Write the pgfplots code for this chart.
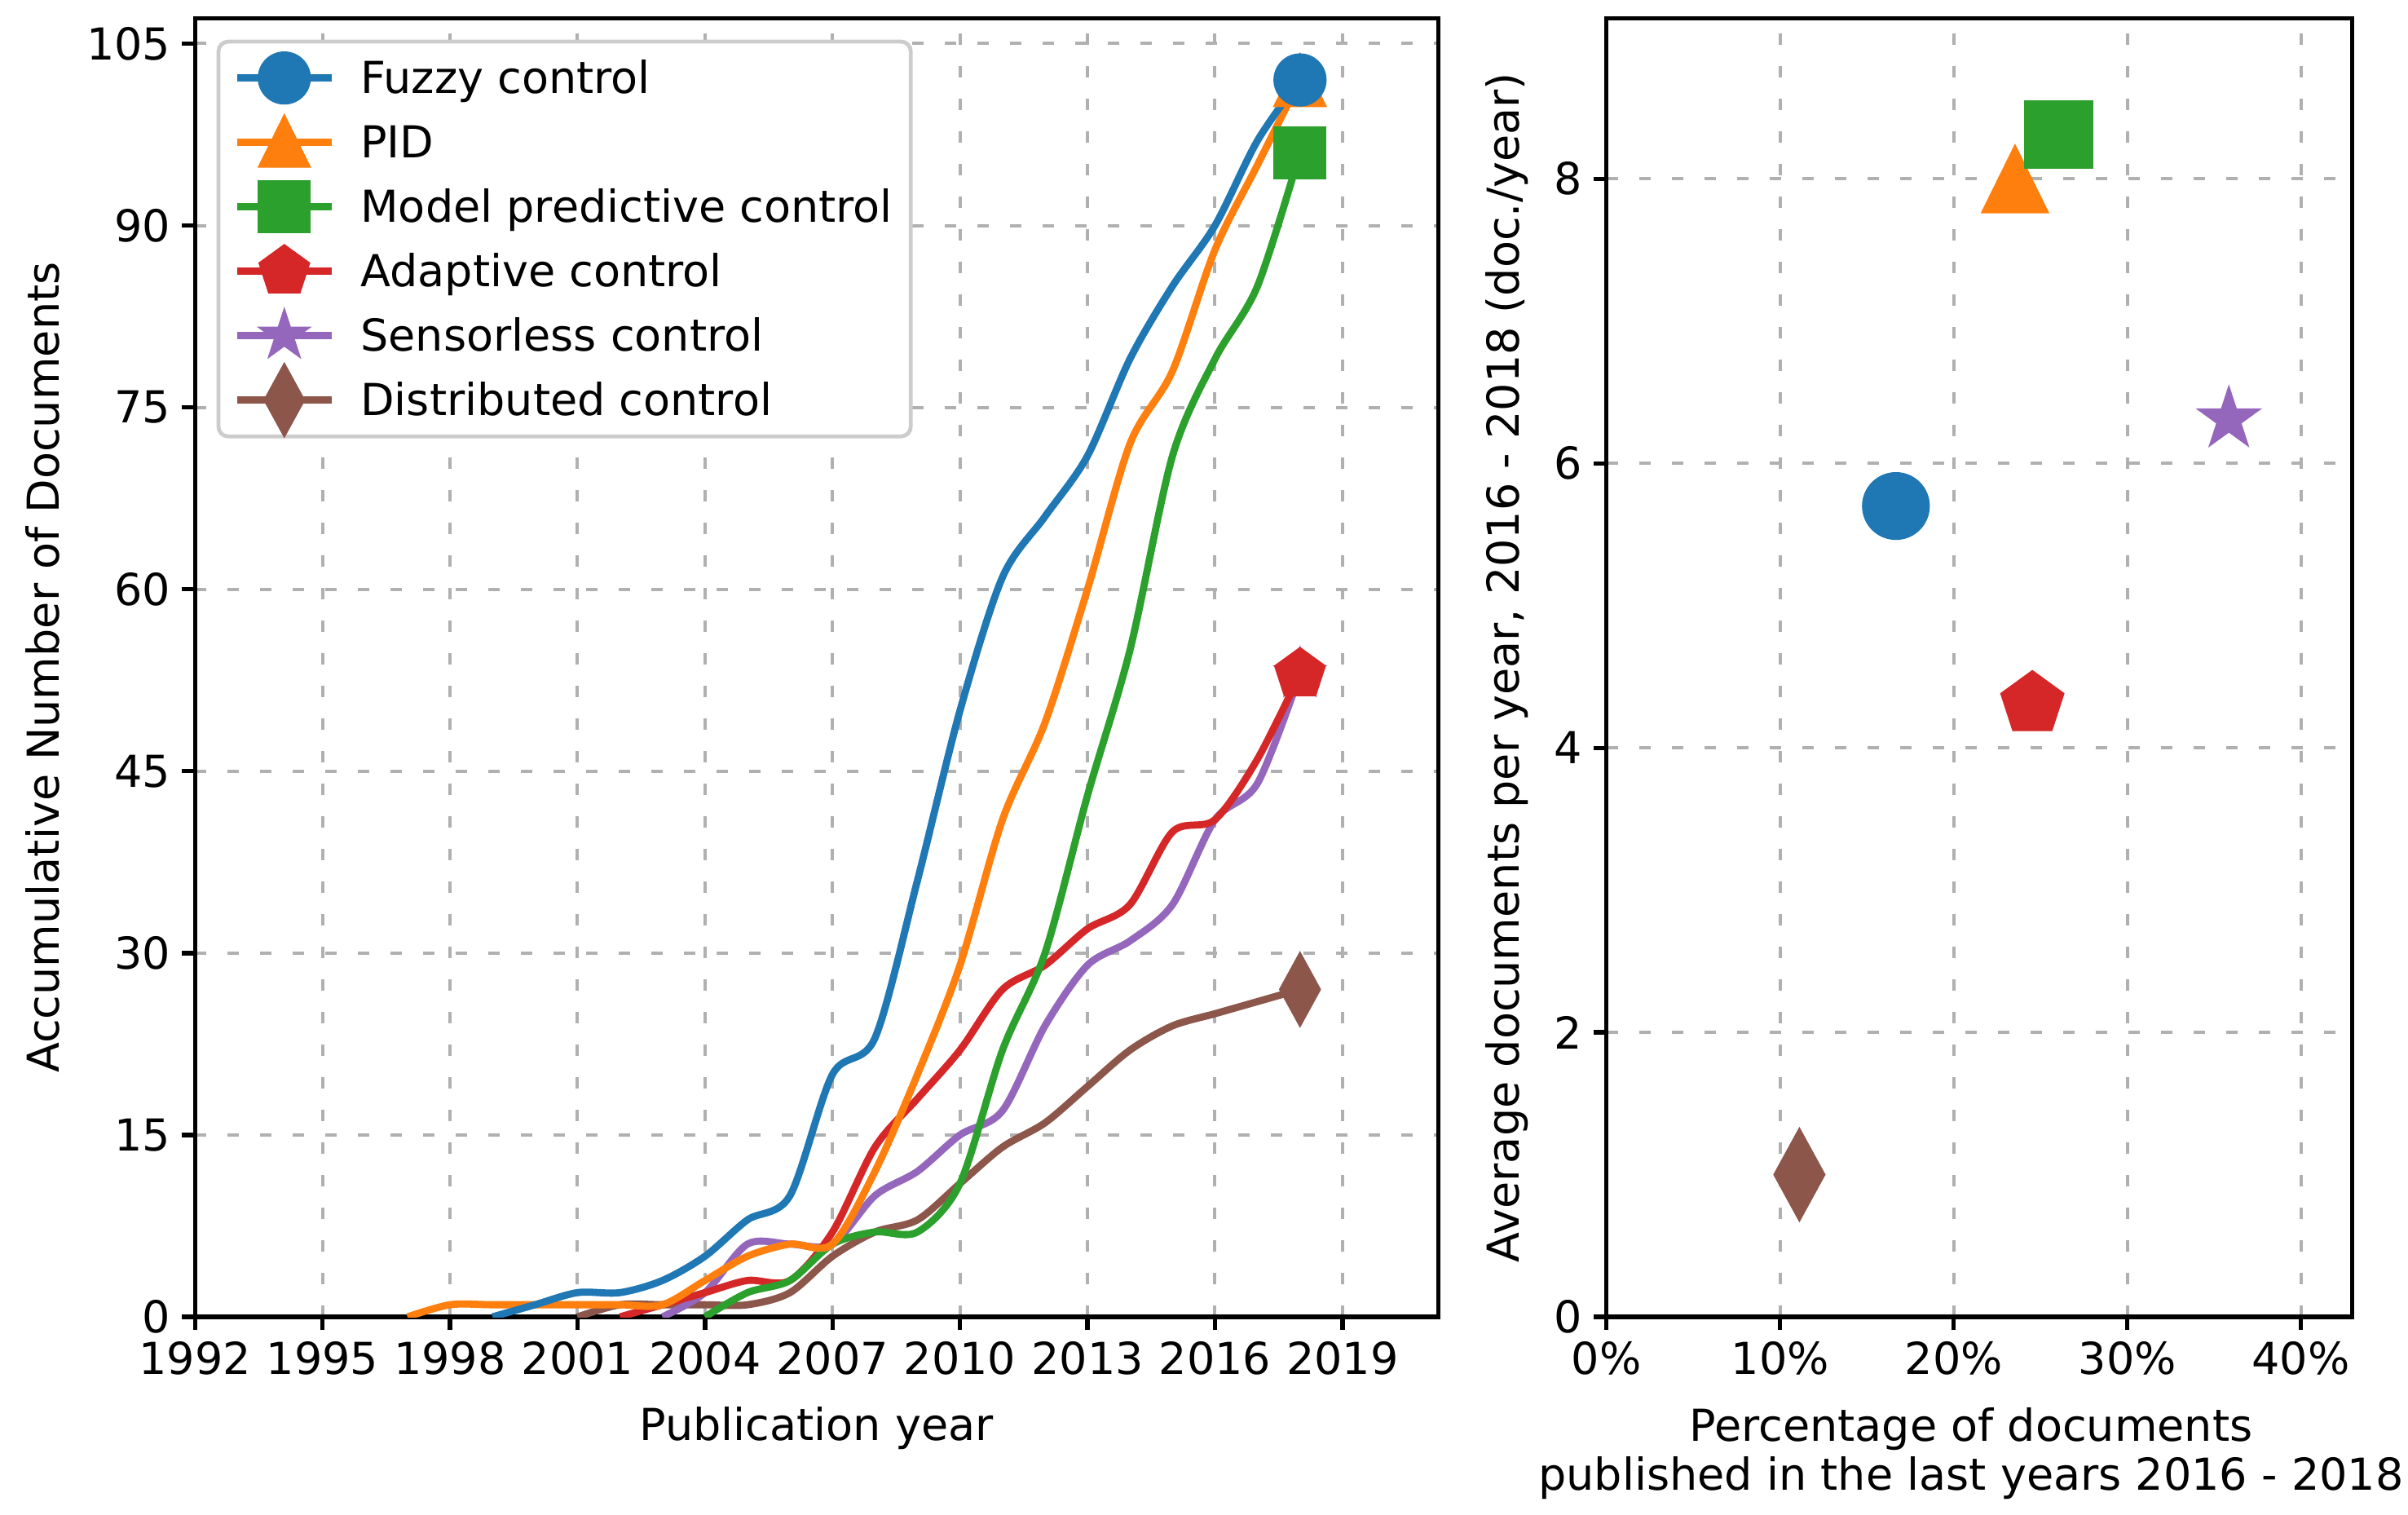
\documentclass[border=0pt]{standalone}
\usepackage{fontspec}
\setmainfont{DejaVu Sans}
\usepackage{pgfplots}
\pgfplotsset{compat=1.18}
\usetikzlibrary{plotmarks}

% tab10 colours
\definecolor{c1}{HTML}{1F77B4}
\definecolor{c2}{HTML}{FF7F0E}
\definecolor{c3}{HTML}{2CA02C}
\definecolor{c4}{HTML}{D62728}
\definecolor{c5}{HTML}{9467BD}
\definecolor{c6}{HTML}{8C564B}
\definecolor{gridc}{HTML}{B0B0B0}
\definecolor{legc}{HTML}{CCCCCC}

\newcommand\fs{\fontsize{13.5pt}{15pt}\selectfont}

% filled five-point star, like matplotlib's '*'
\pgfdeclareplotmark{fstar}{%
  \pgfpathmoveto{\pgfpointpolar{90}{\pgfplotmarksize}}%
  \pgfpathlineto{\pgfpointpolar{126}{0.382\pgfplotmarksize}}%
  \pgfpathlineto{\pgfpointpolar{162}{\pgfplotmarksize}}%
  \pgfpathlineto{\pgfpointpolar{198}{0.382\pgfplotmarksize}}%
  \pgfpathlineto{\pgfpointpolar{234}{\pgfplotmarksize}}%
  \pgfpathlineto{\pgfpointpolar{270}{0.382\pgfplotmarksize}}%
  \pgfpathlineto{\pgfpointpolar{306}{\pgfplotmarksize}}%
  \pgfpathlineto{\pgfpointpolar{342}{0.382\pgfplotmarksize}}%
  \pgfpathlineto{\pgfpointpolar{18}{\pgfplotmarksize}}%
  \pgfpathlineto{\pgfpointpolar{54}{0.382\pgfplotmarksize}}%
  \pgfpathclose
  \pgfusepathqfillstroke}

\pgfplotsset{
  panel/.style={
    scale only axis, anchor=south west,
    axis line style={line width=1.33pt},
    tick style={line width=1.33pt, black},
    major tick length=4pt,
    tick align=outside,
    tick pos=left,
    grid=major,
    major grid style={gridc, line width=1pt, dash pattern=on 3.5pt off 6.5pt},
    tick label style={font=\fs},
    label style={font=\fs},
    /pgf/number format/assume math mode=true,
    /pgf/number format/1000 sep={},
  },
  ln/.style={line width=2.2pt, smooth, tension=0.5, forget plot},
  mk/.style={only marks, mark options={solid, line width=0.3pt}, forget plot},
}

\begin{document}
\begin{tikzpicture}
\useasboundingbox (0,0) rectangle (738.5pt,464.25pt);

% ---------------- left: accumulated documents ----------------
\begin{axis}[panel,
  at={(59.8pt,60.5pt)}, width=381.25pt, height=398.2pt,
  xmin=1992, xmax=2021.25, ymin=0, ymax=107.1,
  xtick={1992,1995,...,2019}, ytick={0,15,...,105},
  xlabel={Publication year},
  ylabel={Accumulative Number of Documents},
  xlabel style={at={(axis description cs:0.5,-0.0954)}, anchor=base},
  ylabel style={at={(axis description cs:-0.1096,0.5)}, anchor=base},
  legend image code/.code={%
    \draw[#1, mark=none, sharp corners, fill=none] (0pt,0pt) -- (29pt,0pt);
    \draw[#1, overlay, sharp corners, line width=0.3pt] plot coordinates {(14.5pt,0pt)};
    \path[draw=none, fill=none] (0pt,-5pt) rectangle (29pt,5pt);
  },
  legend cell align=left,
  legend style={at={(0.0173,0.9834)}, anchor=north west, draw=legc,
    line width=1.2pt, rounded corners=3pt, fill=white, font=\fs,
    inner xsep=4.6pt, inner ysep=3.4pt, row sep=4.25pt, column sep=6.8pt,
    nodes={inner sep=1pt, text height=11.5pt, text depth=2pt}},
]
\addlegendimage{c1, line width=2.2pt, mark=*, mark size=8pt, mark options={solid,line width=0.3pt}}
\addlegendentry{Fuzzy control}
\addlegendimage{c2, line width=2.2pt, mark=triangle*, mark size=9.24pt, mark options={solid,line width=0.3pt,yshift=-2.2pt,yscale=1.17}}
\addlegendentry{PID}
\addlegendimage{c3, line width=2.2pt, mark=square*, mark size=8pt, mark options={solid,line width=0.3pt}}
\addlegendentry{Model predictive control}
\addlegendimage{c4, line width=2.2pt, mark=pentagon*, mark size=8.2pt, mark options={solid,line width=0.3pt}}
\addlegendentry{Adaptive control}
\addlegendimage{c5, line width=2.2pt, mark=fstar, mark size=8.4pt, mark options={solid,line width=0.3pt}}
\addlegendentry{Sensorless control}
\addlegendimage{c6, line width=2.2pt, mark=diamond*, mark size=11.4pt, mark options={solid,line width=0.3pt,xscale=0.73}}
\addlegendentry{Distributed control}

% Distributed control
\addplot[c6, ln] coordinates {
(2001,0) (2002,1) (2003,1) (2004,1) (2005,1) (2006,2) (2007,5) (2008,7) (2009,8)
(2010,11) (2011,14) (2012,16) (2013,19) (2014,22) (2015,24) (2016,25) (2017,26) (2018,27)};
\addplot[c6, mk, mark=diamond*, mark size=11.4pt, mark options={xscale=0.73}] coordinates {(2018,27)};
% Sensorless control
\addplot[c5, ln] coordinates {
(2003,0) (2004,2) (2005,6) (2006,6) (2007,6) (2008,10) (2009,12) (2010,15) (2011,17)
(2012,24) (2013,29) (2014,31) (2015,34) (2016,41) (2017,44) (2018,53)};
\addplot[c5, mk, mark=fstar, mark size=8.4pt] coordinates {(2018,53)};
% Adaptive control
\addplot[c4, ln] coordinates {
(2002,0) (2003,1) (2004,2) (2005,3) (2006,3) (2007,7) (2008,14) (2009,18) (2010,22)
(2011,27) (2012,29) (2013,32) (2014,34) (2015,40) (2016,41) (2017,46) (2018,53)};
\addplot[c4, mk, mark=pentagon*, mark size=8.2pt] coordinates {(2018,53)};
% Model predictive control
\addplot[c3, ln] coordinates {
(2004,0) (2005,2) (2006,3) (2007,6) (2008,7) (2009,7) (2010,11) (2011,22) (2012,30)
(2013,43) (2014,55) (2015,71) (2016,79) (2017,85) (2018,96)};
\addplot[c3, mk, mark=square*, mark size=8pt] coordinates {(2018,96)};
% PID
\addplot[c2, ln] coordinates {
(1997,0) (1998,1) (1999,1) (2000,1) (2001,1) (2002,1) (2003,1) (2004,3) (2005,5)
(2006,6) (2007,6) (2008,12) (2009,20) (2010,29) (2011,41) (2012,49) (2013,60)
(2014,72) (2015,78) (2016,88) (2017,95) (2018,102)};
\addplot[c2, mk, mark=triangle*, mark size=9.24pt, mark options={yshift=-2.7pt,yscale=1.17}] coordinates {(2018,102)};
% Fuzzy control
\addplot[c1, ln] coordinates {
(1999,0) (2000,1) (2001,2) (2002,2) (2003,3) (2004,5) (2005,8) (2006,10) (2007,20)
(2008,23) (2009,36) (2010,50) (2011,61) (2012,66) (2013,71) (2014,79) (2015,85)
(2016,90) (2017,97) (2018,102)};
\addplot[c1, mk, mark=*, mark size=8pt] coordinates {(2018,102)};
\end{axis}

% ---------------- right: recent share vs. rate ----------------
\begin{axis}[panel,
  at={(492.7pt,60.5pt)}, width=228.6pt, height=398.2pt,
  xmin=0, xmax=42.94, ymin=0, ymax=9.13,
  xtick={0,10,20,30,40}, xticklabels={0\%,10\%,20\%,30\%,40\%},
  ytick={0,2,...,8},
  xlabel={Percentage of documents\\published in the last years 2016 - 2018},
  xlabel style={align=center, at={(axis description cs:0.489,-0.1337)}, anchor=base},
  ylabel={Average documents per year, 2016 - 2018 (doc./year)},
  ylabel style={at={(axis description cs:-0.117,0.5)}, anchor=base},
]
\addplot[c1, mk, mark=*, mark size=10.25pt] coordinates {(16.67,5.70)};
\addplot[c2, mk, mark=triangle*, mark size=11.8pt, mark options={yshift=-3.45pt,yscale=1.17}] coordinates {(23.53,8.0)};
\addplot[c3, mk, mark=square*, mark size=10.4pt] coordinates {(26.04,8.31)};
\addplot[c4, mk, mark=pentagon*, mark size=10.2pt] coordinates {(24.53,4.31)};
\addplot[c5, mk, mark=fstar, mark size=10.25pt] coordinates {(35.85,6.31)};
\addplot[c6, mk, mark=diamond*, mark size=14.25pt, mark options={xscale=0.73}] coordinates {(11.11,1.0)};
\end{axis}
\end{tikzpicture}
\end{document}
